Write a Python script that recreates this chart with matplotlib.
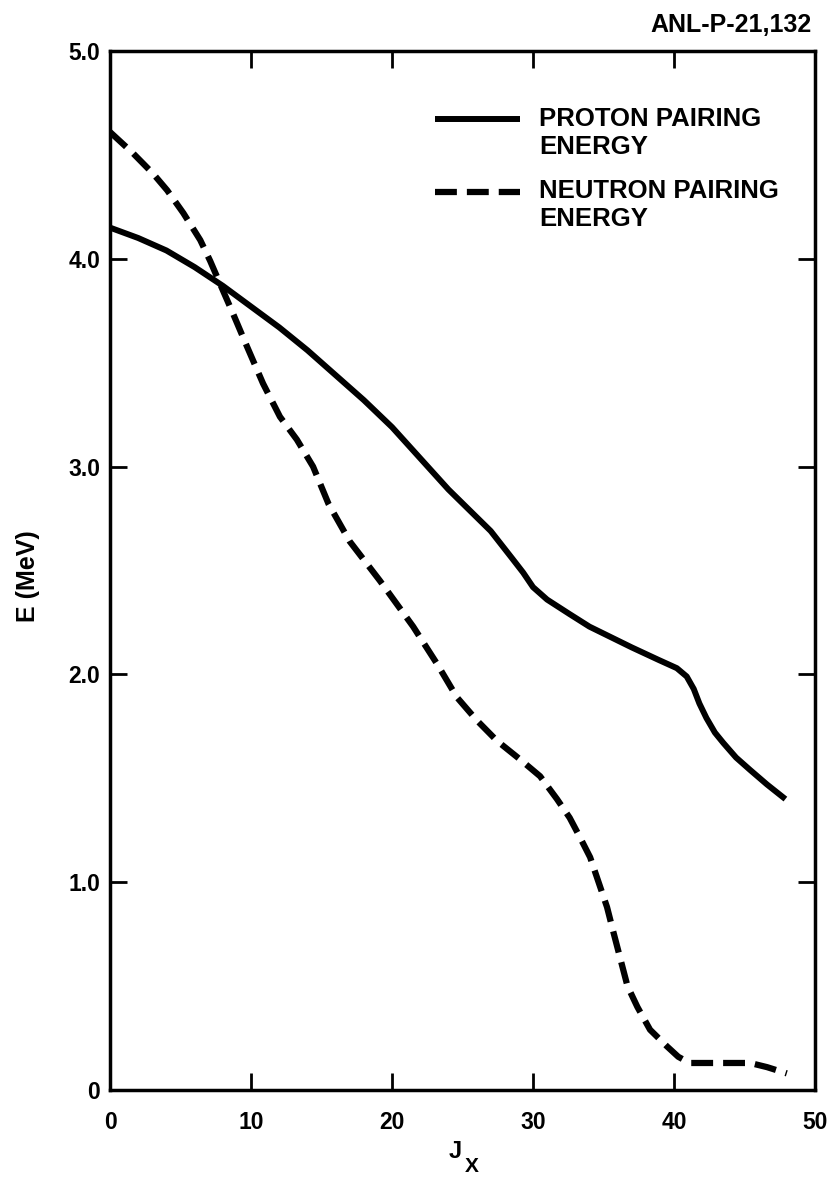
import matplotlib
matplotlib.use("Agg")
import matplotlib.pyplot as plt
import matplotlib.transforms as mtransforms
from matplotlib.lines import Line2D
from matplotlib.legend_handler import HandlerLine2D

plt.rcParams["font.family"] = ["Liberation Sans", "DejaVu Sans"]
plt.rcParams["font.weight"] = "bold"

# values
jx_proton = [0, 2, 4, 6, 8, 10, 12, 14, 16, 18, 20, 22, 24, 25.5, 27, 28.5,
             29.3, 30, 31, 32.6, 34, 35.5, 37, 38.9, 40.2, 40.9, 41.4, 41.8,
             42.3, 42.9, 43.5, 44.4, 45.4, 46.6, 47.9]
e_proton = [4.15, 4.10, 4.04, 3.96, 3.87, 3.77, 3.67, 3.56, 3.44, 3.32, 3.19,
            3.04, 2.89, 2.79, 2.69, 2.56, 2.49, 2.42, 2.36, 2.29, 2.23, 2.18,
            2.13, 2.07, 2.03, 1.99, 1.93, 1.86, 1.79, 1.72, 1.67, 1.60, 1.54,
            1.47, 1.40]

jx_neutron = [0, 1.6, 3.05, 4.05, 5.2, 6.4, 7.1, 7.8, 8.7, 9.7, 10.85, 12.05,
              13.25, 14.4, 15.5, 17, 19.15, 21.5, 23.2, 24.6, 26, 27.45, 29.1,
              30.5, 31.7, 32.6, 33.3, 34.05, 34.75, 35.25, 35.7, 36.2, 36.7,
              37.4, 38.3, 39.5, 40.3, 41.1, 43, 45.4, 46.6, 48]
e_neutron = [4.61, 4.51, 4.41, 4.33, 4.22, 4.09, 3.99, 3.88, 3.74, 3.58, 3.40,
             3.24, 3.13, 3.00, 2.82, 2.64, 2.45, 2.23, 2.05, 1.89, 1.78, 1.68,
             1.59, 1.51, 1.40, 1.31, 1.22, 1.12, 0.98, 0.88, 0.76, 0.63, 0.50,
             0.40, 0.29, 0.21, 0.16, 0.13, 0.13, 0.13, 0.11, 0.08]

x_ticks = [0, 10, 20, 30, 40, 50]
y_ticks = [0, 1, 2, 3, 4, 5]
y_tick_labels = ["0", "1.0", "2.0", "3.0", "4.0", "5.0"]

labels = ["PROTON PAIRING\nENERGY", "NEUTRON PAIRING\nENERGY"]


class RaisedLine(HandlerLine2D):
    # put the legend key next to the first line of a two-line label
    def __init__(self, lift=10, **kw):
        super().__init__(**kw)
        self.lift = lift

    def create_artists(self, legend, orig_handle, xdescent, ydescent,
                       width, height, fontsize, trans):
        shifted = mtransforms.Affine2D().translate(0, self.lift) + trans
        return super().create_artists(legend, orig_handle, xdescent, ydescent,
                                      width, height, fontsize, shifted)


fig = plt.figure(figsize=(8.33, 11.78), dpi=100)
ax = fig.add_axes([0.1321, 0.0747, 0.8463, 0.8820])

ax.plot(jx_proton, e_proton, color="black", lw=4.3, solid_capstyle="butt",
        solid_joinstyle="round", label=labels[0])
ax.plot(jx_neutron, e_neutron, color="black", lw=4.5, dashes=(3.5, 1.6),
        dash_joinstyle="round", label=labels[1])

ax.set_xlim(0, 50)
ax.set_ylim(0, 5)
ax.set_xticks(x_ticks)
ax.set_yticks(y_ticks)
ax.set_yticklabels(y_tick_labels)

for side in ax.spines.values():
    side.set_linewidth(2.5)
ax.tick_params(direction="in", length=12, width=2, top=True, right=True,
               labelsize=16.5)
ax.tick_params(axis="x", pad=15)
ax.tick_params(axis="y", pad=7)

leg = ax.legend(handler_map={Line2D: RaisedLine(lift=10)},
                loc="upper left", bbox_to_anchor=(0.5222, 0.9092),
                bbox_transform=fig.transFigure, frameon=False, fontsize=18.5,
                handlelength=3.3, handletextpad=0.75, labelspacing=0.8,
                borderpad=0, borderaxespad=0)

fig.text(28 / 833, 1 - 576 / 1178, "E (MeV)", rotation=90, ha="center",
         va="center", fontsize=18)
fig.text(455 / 833, 1 - 1152 / 1178, "J", ha="center", va="center", fontsize=17)
fig.text(472 / 833, 1 - 1166 / 1178, "X", ha="center", va="center", fontsize=15)
fig.text(812 / 833, 1 - 32 / 1178, "ANL-P-21,132", ha="right", va="baseline",
         fontsize=18)

fig.savefig("out.png", dpi=100)
